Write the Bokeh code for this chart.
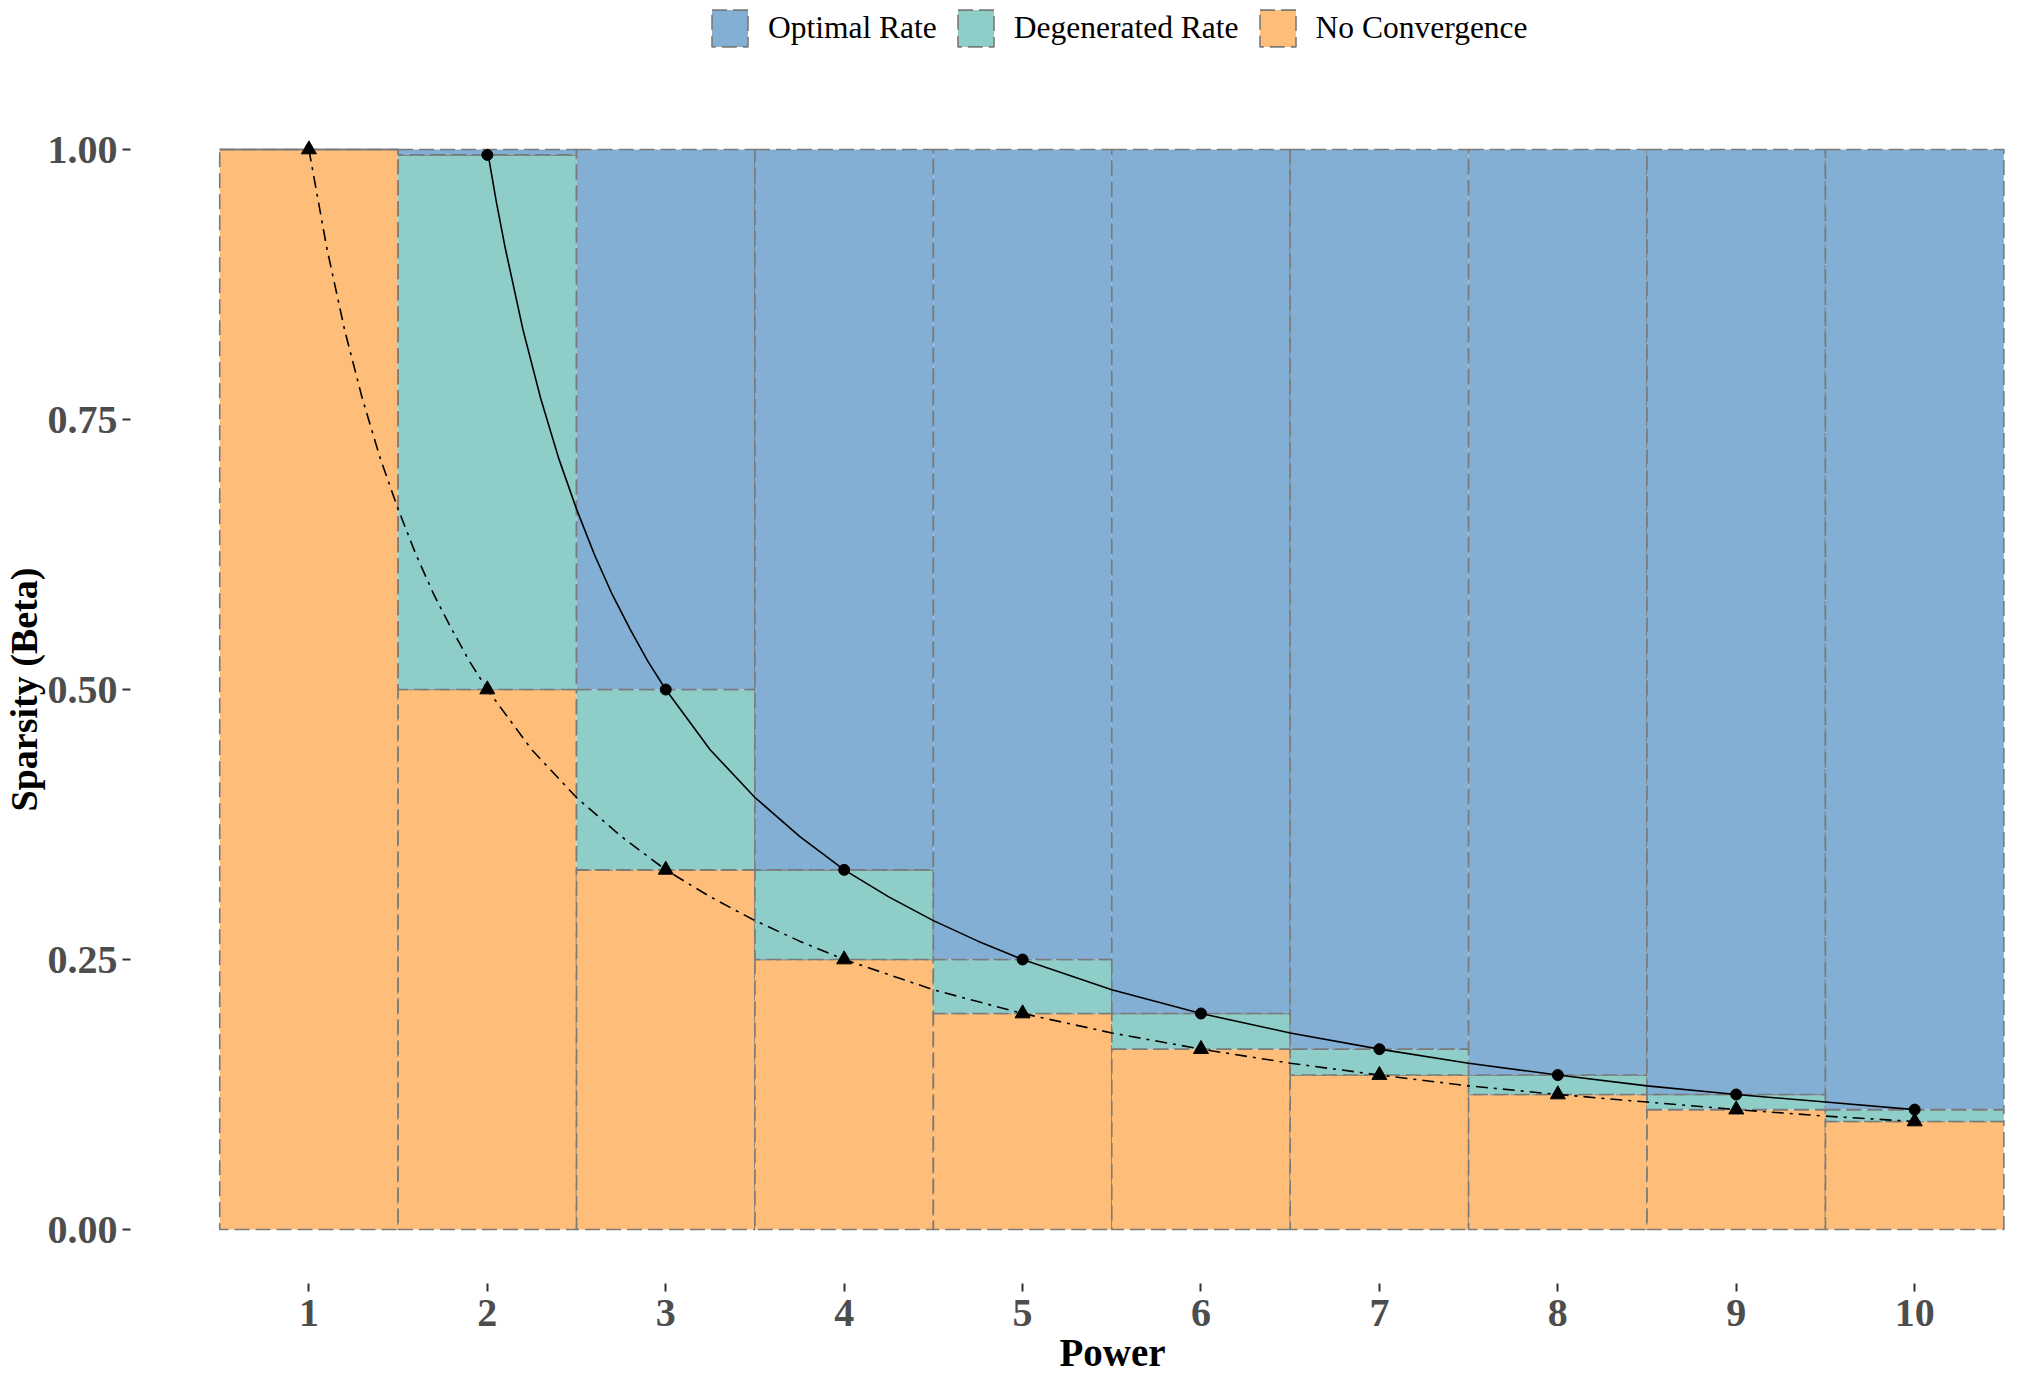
from bokeh.plotting import figure
from bokeh.models import Range1d, FixedTicker, Legend, LegendItem, Title
from bokeh.layouts import column
from bokeh.embed import file_html
from bokeh.resources import INLINE

# ---- data ----
powers = [1, 2, 3, 4, 5, 6, 7, 8, 9, 10]
no_conv_top = [1.0, 0.5, 0.333, 0.25, 0.2, 0.167, 0.143, 0.125, 0.111, 0.1]
degen_top = [1.0, 0.995, 0.5, 0.333, 0.25, 0.2, 0.167, 0.143, 0.125, 0.111]
optimal_top = [1.0, 1.0, 1.0, 1.0, 1.0, 1.0, 1.0, 1.0, 1.0, 1.0]

# lower boundary curve (dash-dot)
lower_x = [1.0, 1.1, 1.2, 1.3, 1.4, 1.5, 1.6, 1.7, 1.8, 1.9, 2.0, 2.25, 2.5, 2.75, 3.0,
           3.25, 3.5, 3.75, 4.0, 4.5, 5.0, 5.5, 6.0, 6.5, 7.0, 7.5, 8.0, 8.5, 9.0, 9.5, 10.0]
lower_y = [1.0, 0.909, 0.833, 0.769, 0.714, 0.667, 0.625, 0.588, 0.556, 0.526, 0.5, 0.444,
           0.4, 0.364, 0.333, 0.308, 0.286, 0.267, 0.25, 0.222, 0.2, 0.182, 0.167, 0.154,
           0.143, 0.133, 0.125, 0.118, 0.111, 0.105, 0.1]
# upper boundary curve (solid)
upper_x = [2.005, 2.05, 2.1, 2.2, 2.3, 2.4, 2.5, 2.6, 2.7, 2.8, 2.9, 3.0, 3.25, 3.5, 3.75,
           4.0, 4.25, 4.5, 4.75, 5.0, 5.5, 6.0, 6.5, 7.0, 7.5, 8.0, 8.5, 9.0, 9.5, 10.0]
upper_y = [0.995, 0.952, 0.909, 0.833, 0.769, 0.714, 0.667, 0.625, 0.588, 0.556, 0.526, 0.5,
           0.444, 0.4, 0.364, 0.333, 0.308, 0.286, 0.267, 0.25, 0.222, 0.2, 0.182, 0.167,
           0.154, 0.143, 0.133, 0.125, 0.118, 0.111]

y_ticks = [0.0, 0.25, 0.5, 0.75, 1.0]
y_tick_labels = ["0.00", "0.25", "0.50", "0.75", "1.00"]
categories = ["Optimal Rate", "Degenerated Rate", "No Convergence"]
colors = {"Optimal Rate": "#82AFD3", "Degenerated Rate": "#8FCEC8", "No Convergence": "#FEBE7A"}

SERIF = "Liberation Serif"
edge = dict(line_color="#7A7A7A", line_width=1.6, line_dash="15 6")

# ---------- legend strip (separate small figure on top) ----------
LEG_H = 59
leg = figure(width=2018, height=LEG_H, output_backend="svg", toolbar_location=None,
             x_range=Range1d(0, 1), y_range=Range1d(0, 1),
             x_axis_type=None, y_axis_type=None,
             min_border_left=128, min_border_right=0, min_border_top=0, min_border_bottom=0)
leg.outline_line_color = None
leg.background_fill_color = "white"
leg.border_fill_color = "white"
leg_items = []
for cat in categories:
    # stand-in renderers placed far outside the view; they only supply legend swatches
    r = leg.vbar(x=[-50.0], width=0.1, bottom=[-50.0], top=[-49.0], fill_color=colors[cat], **edge)
    leg_items.append(LegendItem(label=cat, renderers=[r]))
legend = Legend(items=leg_items, orientation="horizontal", location=(577, 8),
                glyph_width=45, glyph_height=46, label_standoff=16, spacing=16,
                padding=0, margin=0, border_line_color=None, background_fill_alpha=0,
                label_text_font=SERIF, label_text_font_size="31.5px", label_text_color="black",
                label_height=46)
leg.add_layout(legend, "center")

# ---------- main chart ----------
p = figure(width=2018, height=1314, output_backend="svg", toolbar_location=None,
           x_range=Range1d(0, 10.582), y_range=Range1d(-0.05, 1.05),
           min_border_left=128, min_border_right=0, min_border_top=36, min_border_bottom=88)
p.background_fill_color = "white"
p.border_fill_color = "white"
p.outline_line_color = None
p.xgrid.grid_line_color = None
p.ygrid.grid_line_color = None

p.vbar(x=powers, width=1.0, bottom=0, top=no_conv_top,
       fill_color=colors["No Convergence"], **edge)
p.vbar(x=powers, width=1.0, bottom=no_conv_top, top=degen_top,
       fill_color=colors["Degenerated Rate"], **edge)
p.vbar(x=powers, width=1.0, bottom=degen_top, top=optimal_top,
       fill_color=colors["Optimal Rate"], **edge)

p.line(lower_x, lower_y, line_color="black", line_width=1.6, line_dash="12 6 3 6")
p.line(upper_x, upper_y, line_color="black", line_width=1.6)
p.scatter(powers[1:], degen_top[1:], marker="circle", size=11, color="black")
p.scatter(powers, no_conv_top, marker="triangle", size=15, color="black")

for ax in (p.xaxis, p.yaxis):
    ax.axis_line_color = None
    ax.major_tick_line_color = "#333333"
    ax.major_tick_line_width = 2
    ax.major_tick_out = 8
    ax.major_tick_in = 0
    ax.minor_tick_line_color = None
    ax.major_label_text_font = SERIF
    ax.major_label_text_font_style = "bold"
    ax.major_label_text_font_size = "40px"
    ax.major_label_text_color = "#4D4D4D"
p.xaxis.ticker = FixedTicker(ticks=powers)
p.xaxis.major_label_standoff = 8
p.yaxis.ticker = FixedTicker(ticks=y_ticks)
p.yaxis.major_label_overrides = {t: l for t, l in zip(y_ticks, y_tick_labels)}
p.yaxis.major_label_standoff = 5

p.add_layout(Title(text="Power", align="left", offset=929, standoff=0,
                   text_font=SERIF, text_font_style="bold", text_font_size="39px",
                   text_color="black"), "below")
p.add_layout(Title(text="Sparsity (Beta)", align="center", standoff=0,
                   text_font=SERIF, text_font_style="bold", text_font_size="38px",
                   text_color="black"), "left")

layout = column(leg, p, spacing=0)
open("out.html", "w").write(file_html(layout, INLINE))
